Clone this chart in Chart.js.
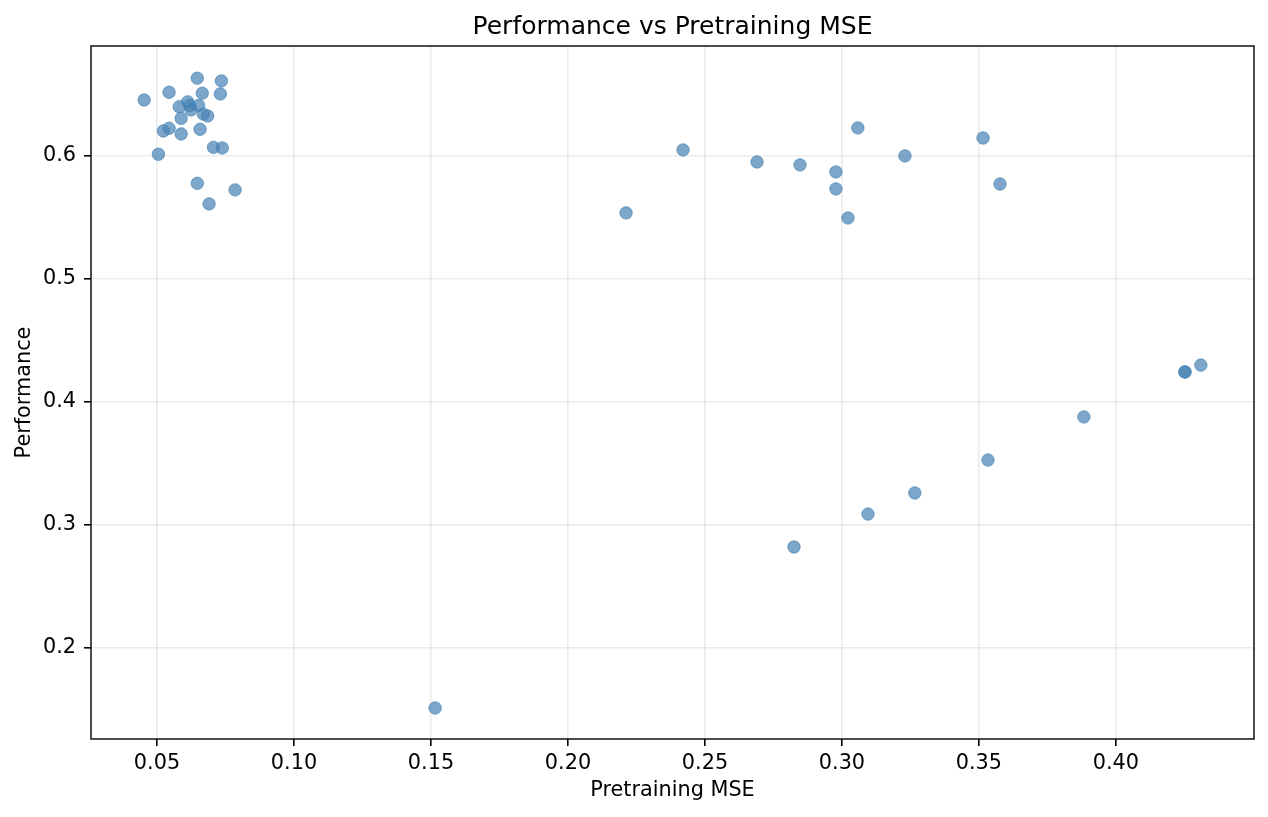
<!DOCTYPE html>
<html>
<head>
<meta charset="utf-8">
<script src="https://cdn.jsdelivr.net/npm/chart.js@4/dist/chart.umd.min.js"></script>
<style>
html,body{margin:0;padding:0;background:#fff;}
#wrap{width:1268px;height:817px;position:relative;}
</style>
</head>
<body>
<div id="wrap"><canvas id="c"></canvas></div>
<script>
const mseValues = [
  0.0453,0.0544,0.0647,0.0735,0.0665,0.0731,0.0581,0.0612,0.0620,0.0652,0.0624,0.0669,
  0.0685,0.0588,0.0523,0.0544,0.0588,0.0657,0.0706,0.0738,0.0505,0.0647,0.0785,0.0690,
  0.1515,0.2212,0.2420,0.2690,0.2847,0.2978,0.2978,0.3022,0.3058,0.3230,0.3515,0.3577,
  0.2825,0.3095,0.3266,0.3533,0.3883,0.4252,0.4252,0.4310
];
const performanceValues = [
  0.6455,0.6518,0.6632,0.6610,0.6510,0.6504,0.6400,0.6440,0.6410,0.6410,0.6374,0.6340,
  0.6325,0.6306,0.6203,0.6225,0.6179,0.6217,0.6070,0.6065,0.6014,0.5778,0.5724,0.5610,
  0.1512,0.5537,0.6049,0.5951,0.5927,0.5870,0.5732,0.5496,0.6228,0.6000,0.6146,0.5772,
  0.2821,0.3089,0.3260,0.3528,0.3878,0.4244,0.4244,0.4300
];
const xTickValues = [0.05,0.10,0.15,0.20,0.25,0.30,0.35,0.40];
const yTickValues = [0.2,0.3,0.4,0.5,0.6];
const titleText = 'Performance vs Pretraining MSE';
const xLabel = 'Pretraining MSE';
const yLabel = 'Performance';

const points = mseValues.map((x,i)=>({x:x, y:performanceValues[i]}));
const FONT = 'DejaVu Sans';

const framePlugin = {
  id:'frame',
  afterDatasetsDraw(chart){
    const a = chart.chartArea, ctx = chart.ctx;
    ctx.save();
    ctx.strokeStyle = '#000';
    ctx.lineWidth = 1.4;
    ctx.strokeRect(a.left, a.top, a.right-a.left, a.bottom-a.top);
    ctx.restore();
  }
};

new Chart(document.getElementById('c'), {
  type:'scatter',
  data:{datasets:[{
    data:points,
    backgroundColor:'rgba(70,130,180,0.7)',
    borderColor:'rgba(70,130,180,0.7)',
    borderWidth:1,
    pointRadius:6.2,
    pointHoverRadius:6.2
  }]},
  options:{
    responsive:true,
    maintainAspectRatio:false,
    animation:false,
    devicePixelRatio:1,
    layout:{padding:{left:0,right:14,top:0,bottom:0}},
    plugins:{
      legend:{display:false},
      tooltip:{enabled:false},
      title:{display:true,text:titleText,color:'#000',fullSize:false,
        font:{family:FONT,size:25,weight:'normal',lineHeight:1.2},
        padding:{top:12,bottom:4}}
    },
    scales:{
      x:{
        type:'linear', min:0.0259, max:0.4504,
        afterBuildTicks(s){ s.ticks = xTickValues.map(v=>({value:v})); },
        afterFit(s){ s.height = 78; },
        grid:{color:'rgba(176,176,176,0.25)',lineWidth:1.6,tickColor:'#000',tickLength:7,tickWidth:1.6},
        border:{display:false},
        ticks:{color:'#000',padding:5,maxRotation:0,autoSkip:false,
          font:{family:FONT,size:20.8},
          callback:v=>v.toFixed(2)},
        title:{display:true,text:xLabel,color:'#000',
          font:{family:FONT,size:20.8,lineHeight:1.2},padding:{top:0,bottom:14}}
      },
      y:{
        type:'linear', min:0.126, max:0.6894,
        afterBuildTicks(s){ s.ticks = yTickValues.map(v=>({value:v})); },
        afterFit(s){ s.width = 91; },
        grid:{color:'rgba(176,176,176,0.25)',lineWidth:1.6,tickColor:'#000',tickLength:7,tickWidth:1.6},
        border:{display:false},
        ticks:{color:'#000',padding:8,autoSkip:false,
          font:{family:FONT,size:20.8},
          callback:v=>v.toFixed(1)},
        title:{display:true,text:yLabel,color:'#000',
          font:{family:FONT,size:20.8,lineHeight:1.2},padding:{top:12,bottom:0}}
      }
    }
  },
  plugins:[framePlugin]
});
</script>
</body>
</html>
